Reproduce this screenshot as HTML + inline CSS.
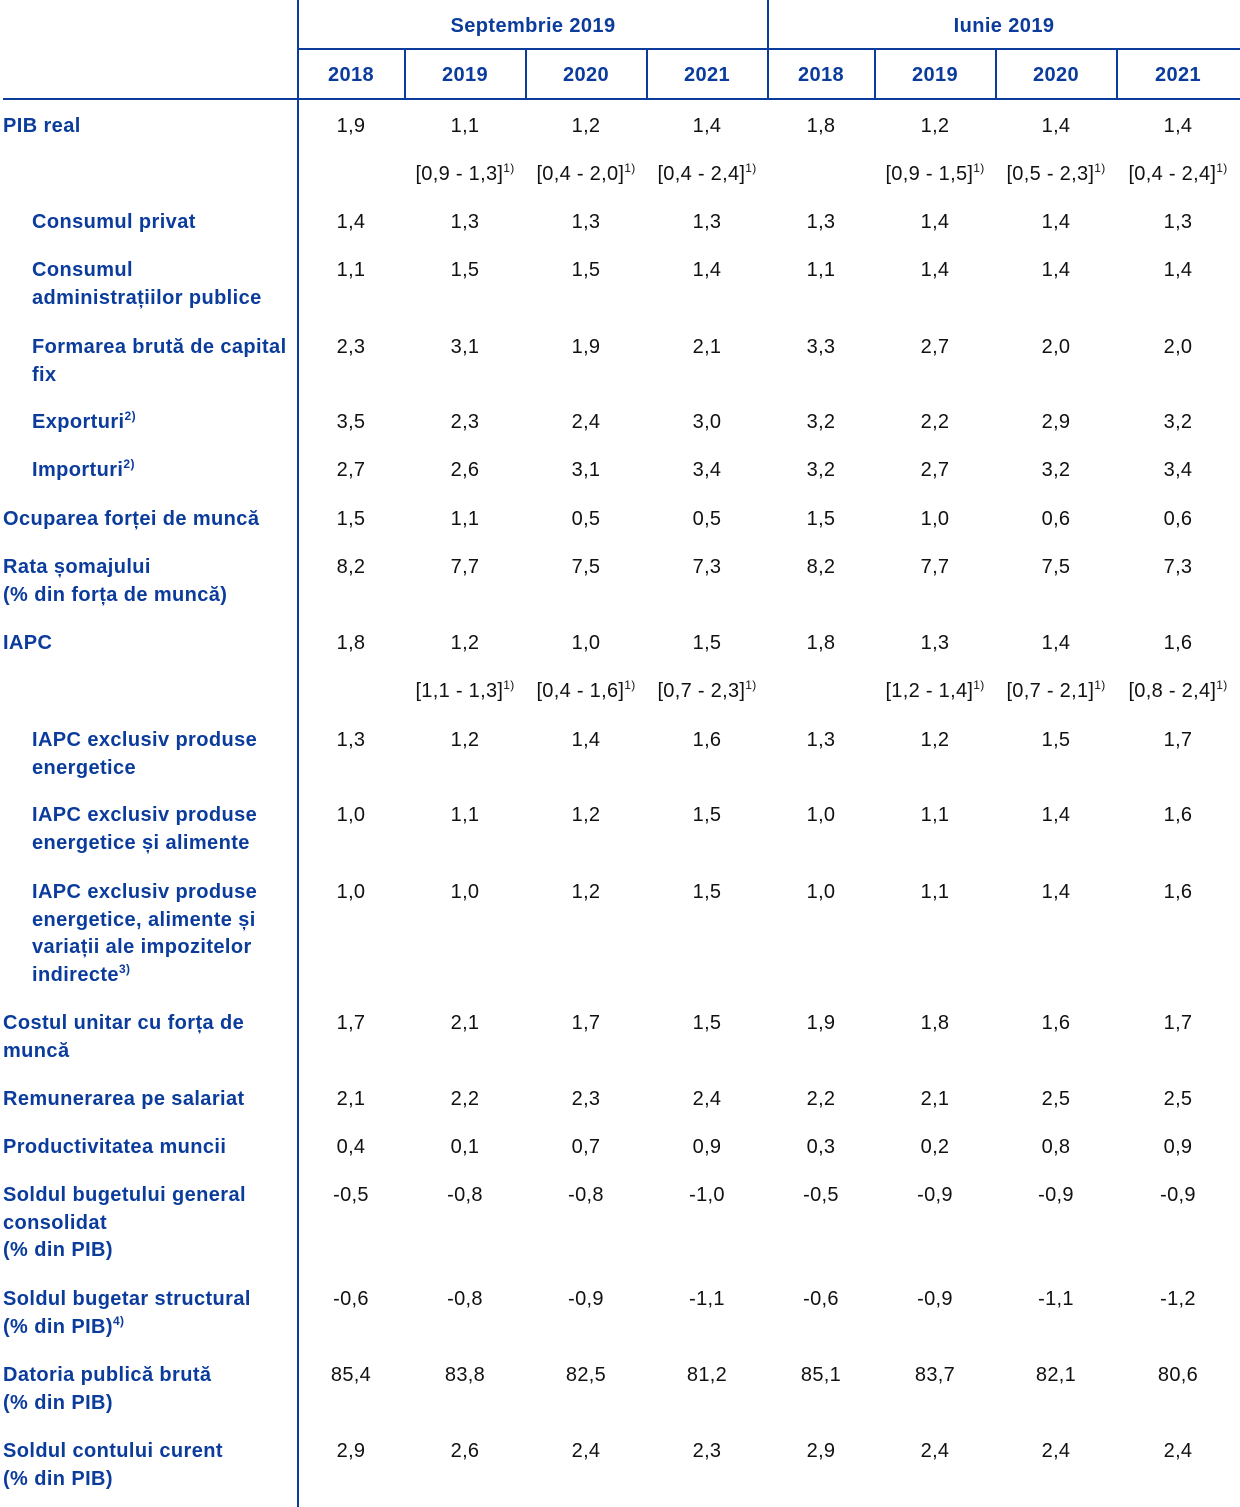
<!DOCTYPE html>
<html><head><meta charset="utf-8"><style>
body{margin:0;width:1240px;height:1507px;background:#fff;position:relative;font-family:"Liberation Sans",Arial,sans-serif;font-size:20px;overflow:hidden}
.l{position:absolute;background:#0b3c9c}
.t{position:absolute;color:#0b3c9c;font-weight:bold;line-height:27.5px;white-space:nowrap;letter-spacing:0.4px}
.n{position:absolute;color:#111;line-height:27.5px;text-align:center;white-space:nowrap;letter-spacing:0.3px}
sup{font-size:12px;vertical-align:0;position:relative;top:-8px;font-weight:normal}
.t sup{font-weight:bold}
</style></head><body>
<div class="l" style="left:297px;top:0;width:2px;height:1507px"></div>
<div class="l" style="left:298px;top:48px;width:942px;height:2px"></div>
<div class="l" style="left:3px;top:98px;width:1237px;height:2px"></div>
<div class="l" style="left:767px;top:0;width:2px;height:100px"></div>
<div class="l" style="left:404px;top:48px;width:2px;height:52px"></div>
<div class="l" style="left:525px;top:48px;width:2px;height:52px"></div>
<div class="l" style="left:646px;top:48px;width:2px;height:52px"></div>
<div class="l" style="left:874px;top:48px;width:2px;height:52px"></div>
<div class="l" style="left:995px;top:48px;width:2px;height:52px"></div>
<div class="l" style="left:1116px;top:48px;width:2px;height:52px"></div>
<div class="t" style="left:298px;width:470px;top:13px;text-align:center">Septembrie 2019</div>
<div class="t" style="left:768px;width:472px;top:13px;text-align:center">Iunie 2019</div>
<div id="c"></div>
<script>
var cx=[351,465,586,707,821,935,1056,1178];
var h='';
['2018','2019','2020','2021','2018','2019','2020','2021'].forEach(function(y,i){h+='<div class="t" style="left:'+(cx[i]-60)+'px;width:120px;top:62px;text-align:center">'+y+'</div>';});
var s='<sup>1)</sup>';
var rows=[
[126,3,'PIB real',['1,9','1,1','1,2','1,4','1,8','1,2','1,4','1,4']],
[174,3,'',['','[0,9 - 1,3]'+s,'[0,4 - 2,0]'+s,'[0,4 - 2,4]'+s,'','[0,9 - 1,5]'+s,'[0,5 - 2,3]'+s,'[0,4 - 2,4]'+s]],
[222,32,'Consumul privat',['1,4','1,3','1,3','1,3','1,3','1,4','1,4','1,3']],
[270,32,'Consumul<br>administrațiilor publice',['1,1','1,5','1,5','1,4','1,1','1,4','1,4','1,4']],
[347,32,'Formarea brută de capital<br>fix',['2,3','3,1','1,9','2,1','3,3','2,7','2,0','2,0']],
[422,32,'Exporturi<sup>2)</sup>',['3,5','2,3','2,4','3,0','3,2','2,2','2,9','3,2']],
[470,32,'Importuri<sup>2)</sup>',['2,7','2,6','3,1','3,4','3,2','2,7','3,2','3,4']],
[519,3,'Ocuparea forței de muncă',['1,5','1,1','0,5','0,5','1,5','1,0','0,6','0,6']],
[567,3,'Rata șomajului<br>(% din forța de muncă)',['8,2','7,7','7,5','7,3','8,2','7,7','7,5','7,3']],
[643,3,'IAPC',['1,8','1,2','1,0','1,5','1,8','1,3','1,4','1,6']],
[691,3,'',['','[1,1 - 1,3]'+s,'[0,4 - 1,6]'+s,'[0,7 - 2,3]'+s,'','[1,2 - 1,4]'+s,'[0,7 - 2,1]'+s,'[0,8 - 2,4]'+s]],
[740,32,'IAPC exclusiv produse<br>energetice',['1,3','1,2','1,4','1,6','1,3','1,2','1,5','1,7']],
[815,32,'IAPC exclusiv produse<br>energetice și alimente',['1,0','1,1','1,2','1,5','1,0','1,1','1,4','1,6']],
[892,32,'IAPC exclusiv produse<br>energetice, alimente și<br>variații ale impozitelor<br>indirecte<sup>3)</sup>',['1,0','1,0','1,2','1,5','1,0','1,1','1,4','1,6']],
[1023,3,'Costul unitar cu forța de<br>muncă',['1,7','2,1','1,7','1,5','1,9','1,8','1,6','1,7']],
[1099,3,'Remunerarea pe salariat',['2,1','2,2','2,3','2,4','2,2','2,1','2,5','2,5']],
[1147,3,'Productivitatea muncii',['0,4','0,1','0,7','0,9','0,3','0,2','0,8','0,9']],
[1195,3,'Soldul bugetului general<br>consolidat<br>(% din PIB)',['-0,5','-0,8','-0,8','-1,0','-0,5','-0,9','-0,9','-0,9']],
[1299,3,'Soldul bugetar structural<br>(% din PIB)<sup>4)</sup>',['-0,6','-0,8','-0,9','-1,1','-0,6','-0,9','-1,1','-1,2']],
[1375,3,'Datoria publică brută<br>(% din PIB)',['85,4','83,8','82,5','81,2','85,1','83,7','82,1','80,6']],
[1451,3,'Soldul contului curent<br>(% din PIB)',['2,9','2,6','2,4','2,3','2,9','2,4','2,4','2,4']]
];
rows.forEach(function(r){
 var top=r[0]-13;
 if(r[2])h+='<div class="t" style="left:'+r[1]+'px;top:'+top+'px">'+r[2]+'</div>';
 r[3].forEach(function(v,i){if(v)h+='<div class="n" style="left:'+(cx[i]-65)+'px;width:130px;top:'+top+'px">'+v+'</div>';});
});
document.getElementById('c').innerHTML=h;
</script>
</body></html>
